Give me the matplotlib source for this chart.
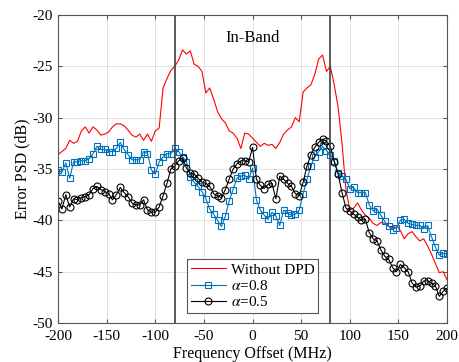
import matplotlib.pyplot as plt
import numpy as np

plt.rcParams['font.family'] = ['Liberation Serif', 'DejaVu Serif']
plt.rcParams['mathtext.fontset'] = 'stix'
plt.rcParams['axes.unicode_minus'] = False

freq = np.arange(-200, 201, 4)

no_dpd = [-33.6, -33.3, -33.0, -32.2, -32.5, -32.3, -31.3, -30.9, -31.5, -30.9,
          -31.2, -31.7, -31.6, -31.4, -30.9, -30.6, -30.6, -30.8, -31.2, -31.7,
          -31.9, -31.6, -32.2, -31.6, -32.3, -31.3, -31.0, -27.1, -26.2, -25.4,
          -25.0, -24.4, -23.4, -23.8, -23.5, -24.8, -25.0, -25.5, -27.6, -27.1,
          -28.2, -29.4, -30.1, -30.5, -31.3, -31.5, -32.0, -33.0, -31.5, -31.6,
          -32.0, -32.4, -32.8, -32.5, -32.7, -32.6, -33.0, -32.4, -31.6, -31.2,
          -30.9, -30.0, -30.4, -27.5, -27.1, -26.8, -25.8, -24.3, -23.9, -25.5,
          -25.0, -26.8, -29.0, -32.5, -37.0, -39.0, -38.8, -38.3, -39.0, -39.5,
          -39.8, -40.3, -40.5, -40.2, -40.3, -40.6, -40.6, -40.5, -41.0, -41.8,
          -41.3, -41.1, -41.6, -42.0, -41.8, -42.5, -43.3, -44.2, -45.1, -45.0,
          -45.8]

alpha_08 = [-35.1, -35.3, -34.4, -35.9, -34.3, -34.3, -34.2, -34.2, -34.0, -33.5,
            -32.8, -33.1, -33.1, -33.3, -33.3, -33.0, -32.4, -33.1, -33.6, -34.1,
            -34.1, -34.1, -33.3, -33.5, -35.1, -35.5, -34.3, -33.8, -33.5, -33.5,
            -33.0, -33.3, -33.8, -34.3, -35.8, -36.3, -36.7, -37.2, -37.9, -38.9,
            -39.4, -40.0, -40.6, -39.6, -38.1, -37.0, -35.9, -35.7, -35.6, -36.0,
            -34.9, -38.0, -39.0, -39.5, -39.9, -39.2, -39.6, -40.5, -39.0, -39.3,
            -39.5, -39.4, -39.0, -37.4, -36.0, -34.7, -33.8, -33.3, -32.8, -33.2,
            -33.6, -34.2, -35.4, -35.7, -36.0, -36.9, -36.8, -37.3, -37.3, -37.3,
            -38.5, -39.1, -38.9, -39.5, -40.1, -40.6, -40.9, -40.7, -40.0, -39.9,
            -40.3, -40.4, -40.5, -40.5, -40.8, -40.5, -41.6, -42.6, -43.4, -43.2,
            -43.3]

alpha_05 = [-38.1, -38.9, -37.5, -38.7, -37.9, -38.0, -37.8, -37.7, -37.5, -36.9,
            -36.7, -37.0, -37.2, -37.4, -38.0, -37.5, -36.8, -37.3, -37.7, -38.3,
            -38.5, -38.5, -38.0, -39.0, -39.2, -39.2, -38.7, -37.6, -36.4, -35.0,
            -34.7, -34.2, -33.9, -34.9, -35.4, -35.5, -35.9, -36.3, -36.4, -36.7,
            -37.4, -37.6, -37.8, -37.0, -36.0, -35.0, -34.5, -34.2, -34.2, -34.3,
            -32.9, -36.0, -36.6, -36.9, -36.5, -36.4, -37.9, -35.7, -36.0, -36.4,
            -36.7, -37.4, -37.6, -36.3, -34.7, -33.6, -32.9, -32.4, -32.1, -32.3,
            -32.8, -34.3, -35.5, -37.3, -38.8, -39.1, -39.4, -39.7, -40.0, -39.9,
            -41.2, -41.8, -42.0, -42.9, -43.5, -43.8, -44.6, -45.0, -44.3, -44.6,
            -45.0, -46.1, -46.5, -46.4, -45.9, -45.9, -46.1, -46.4, -47.4, -46.9,
            -46.6]

band_edges = [-80, 80]

fig = plt.figure(figsize=(4.59, 3.62), dpi=100)
ax = fig.add_axes([0.1264, 0.1077, 0.8476, 0.8509])

ax.plot(freq, no_dpd, color='red', lw=0.8, label='Without DPD')
ax.plot(freq, alpha_08, color='#0072BD', lw=0.8, marker='s', ms=4.5,
        mfc='none', mew=0.8, label=r'$\alpha$=0.8')
ax.plot(freq, alpha_05, color='black', lw=0.8, marker='o', ms=5,
        mfc='none', mew=0.8, label=r'$\alpha$=0.5')

for e in band_edges:
    ax.axvline(e, color='#404040', lw=1.2)

ax.text(0, -22.2, 'In-Band', ha='center', va='center', fontsize=12)

ax.set_xlim(-200, 200)
ax.set_ylim(-50, -20)
ax.set_xticks(np.arange(-200, 201, 50))
ax.set_yticks(np.arange(-50, -19, 5))
ax.grid(True, color='#dcdcdc', lw=0.6)
ax.set_axisbelow(True)
ax.tick_params(direction='in', top=True, right=True, labelsize=11,
               color='#555555', length=3)
ax.tick_params(axis='x', pad=5)
ax.tick_params(axis='y', pad=4)
for s in ax.spines.values():
    s.set_color('#555555')
    s.set_linewidth(0.8)

ax.set_xlabel('Frequency Offset (MHz)', fontsize=11.5, labelpad=2)
ax.set_ylabel('Error PSD (dB)', fontsize=11.5, labelpad=1)

leg = ax.legend(loc='lower center', bbox_to_anchor=(0.5, 0.032), fontsize=11,
                fancybox=False, framealpha=1, edgecolor='#555555',
                handlelength=2.3, handletextpad=0.3, borderpad=0.25,
                labelspacing=0.15, borderaxespad=0)
leg.get_frame().set_linewidth(0.8)

fig.savefig('out.png', dpi=100)
